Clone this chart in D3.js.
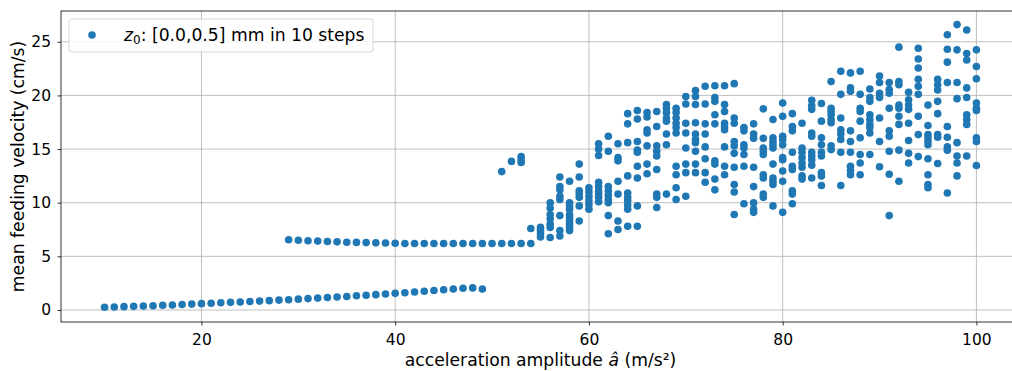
<!DOCTYPE html>
<html>
<head>
<meta charset="utf-8">
<script src="https://cdn.jsdelivr.net/npm/d3@7"></script>
<style>
    body { margin: 0; background: #fff; }
    svg { display: block; font-family: "DejaVu Sans", sans-serif; }
</style>
</head>
<body>
<script>
// Lower branch (slow feeding), one point per acceleration
const lowAccel = [10, 11, 12, 13, 14, 15, 16, 17, 18, 19, 20, 21, 22, 23, 24, 25, 26, 27, 28, 29,
    30, 31, 32, 33, 34, 35, 36, 37, 38, 39, 40, 41, 42, 43, 44, 45, 46, 47, 48, 49];
const lowVel = [0.25, 0.28, 0.31, 0.34, 0.37, 0.40, 0.44, 0.47, 0.51, 0.55, 0.59, 0.63, 0.67, 0.71,
    0.75, 0.79, 0.83, 0.87, 0.92, 0.96, 1.01, 1.06, 1.11, 1.16, 1.21, 1.26, 1.32, 1.37, 1.43, 1.49,
    1.55, 1.61, 1.67, 1.74, 1.81, 1.88, 1.95, 2.02, 2.06, 1.95];

// Middle plateau
const midAccel = [29, 30, 31, 32, 33, 34, 35, 36, 37, 38, 39, 40, 41, 42, 43, 44, 45, 46, 47, 48,
    49, 50, 51, 52, 53, 54];
const midVel = [6.55, 6.5, 6.45, 6.42, 6.38, 6.35, 6.32, 6.3, 6.28, 6.26, 6.24, 6.22, 6.2, 6.2,
    6.2, 6.2, 6.2, 6.2, 6.2, 6.2, 6.2, 6.2, 6.2, 6.2, 6.2, 6.2];

// Scattered upper region, several z0 values per acceleration
const upperAccel = [51, 52, 53, 54, 55, 56, 57, 58, 59, 60, 61, 62, 63, 64, 65, 66, 67, 68, 69, 70,
    71, 72, 73, 74, 75, 76, 77, 78, 79, 80, 81, 82, 83, 84, 85, 86, 87, 88, 89, 90,
    91, 92, 93, 94, 95, 96, 97, 98, 99, 100];
const upperVel = [
    [12.9],
    [13.85],
    [14.3, 14.0, 13.75],
    [7.6],
    [7.7, 7.4, 7.1, 6.8],
    [10.0, 9.5, 8.9, 8.5, 8.0, 7.7, 6.75],
    [12.4, 11.5, 11.2, 10.6, 10.3, 8.8, 7.4, 6.9],
    [12.0, 10.0, 9.7, 9.4, 8.9, 8.6, 8.3, 8.0, 7.7, 7.4],
    [13.6, 12.4, 11.1, 10.8, 10.5, 9.7, 8.3],
    [11.4, 11.0, 10.6, 10.2, 9.8, 9.4],
    [15.5, 15.0, 14.4, 11.9, 11.5, 11.1, 10.8, 10.5, 10.1],
    [16.2, 14.8, 11.5, 11.1, 10.7, 10.3, 10.0, 8.8, 7.1],
    [15.5, 14.2, 13.9, 12.0, 10.8, 8.3, 7.5],
    [18.3, 17.35, 15.6, 12.5, 10.9, 10.5, 10.2, 9.8, 9.4, 7.8],
    [18.6, 17.8, 15.7, 14.9, 14.7, 13.4, 12.3, 9.7, 7.8],
    [18.4, 18.0, 16.8, 16.5, 15.3, 13.6, 12.7],
    [18.5, 17.1, 15.3, 14.8, 14.35, 13.1, 10.8, 10.5, 9.55],
    [19.15, 18.8, 18.4, 17.9, 17.6, 16.4, 15.4, 10.8],
    [18.8, 18.4, 17.9, 17.4, 17.0, 16.5, 13.4, 12.6, 11.4, 10.3],
    [19.9, 19.2, 17.4, 16.5, 15.1, 13.6, 12.8, 10.6],
    [20.45, 19.9, 19.15, 17.45, 16.4, 15.9, 15.6, 14.8, 13.6, 12.8],
    [20.85, 19.2, 17.35, 16.4, 15.2, 14.1, 12.8, 11.9],
    [20.9, 19.8, 19.45, 18.2, 17.35, 13.9, 13.6, 12.2, 11.2],
    [20.9, 19.15, 18.5, 17.4, 17.1, 16.8, 15.2, 13.4, 12.6],
    [21.1, 17.9, 17.4, 15.7, 15.3, 14.6, 13.3, 11.7, 11.0, 8.9],
    [17.0, 16.7, 15.4, 15.1, 14.5, 13.4, 9.9],
    [17.35, 16.4, 16.0, 13.3, 11.5, 10.0, 9.4, 9.1],
    [18.75, 16.0, 15.1, 14.8, 14.5, 12.6, 12.3, 10.8, 10.5],
    [17.75, 16.05, 15.7, 15.4, 15.1, 13.6, 12.3, 12.0, 11.7, 9.7],
    [19.3, 18.05, 16.2, 15.9, 15.4, 14.2, 14.0, 12.95, 12.0, 9.1],
    [18.3, 17.1, 16.7, 14.7, 13.4, 13.1, 11.1, 10.8, 9.9],
    [17.4, 15.1, 14.7, 14.2, 13.7, 13.3, 12.5, 12.2],
    [19.55, 19.05, 18.7, 16.5, 16.2, 14.7, 14.35, 14.0, 13.5, 12.3],
    [19.25, 17.6, 16.05, 15.4, 14.7, 14.35, 12.8, 12.5, 11.6],
    [21.3, 18.8, 18.5, 18.2, 17.75, 17.45, 15.3, 14.95],
    [22.25, 20.1, 17.9, 16.8, 16.4, 15.9, 14.7, 11.6],
    [22.1, 20.7, 20.4, 16.7, 15.7, 14.7, 13.4, 13.0, 12.6],
    [22.25, 20.1, 18.8, 18.5, 17.6, 16.05, 14.5, 13.7, 12.6],
    [20.6, 19.8, 19.45, 18.2, 17.75, 17.3, 17.0, 16.5, 14.5],
    [21.8, 21.2, 20.2, 19.8, 17.9, 15.7, 13.35],
    [21.2, 20.55, 20.2, 18.8, 16.7, 16.2, 14.8, 12.65, 8.8],
    [24.5, 21.3, 21.0, 19.1, 18.8, 18.06, 17.3, 14.9, 12.0],
    [20.3, 19.6, 19.1, 18.7, 17.4, 15.8, 14.6, 13.7],
    [24.4, 23.4, 22.55, 21.5, 20.85, 20.1, 18.06, 16.35, 14.3],
    [19.1, 17.2, 16.35, 16.05, 15.7, 15.4, 14.1, 12.6, 11.7, 11.4],
    [21.5, 21.0, 20.5, 19.45, 18.3, 16.35, 16.1, 13.66],
    [25.65, 24.3, 23.1, 21.2, 17.1, 16.1, 15.2, 14.9, 10.9],
    [26.6, 24.25, 21.2, 19.7, 15.6, 14.35, 13.7, 12.5],
    [26.1, 23.9, 23.3, 20.7, 19.8, 18.2, 17.75, 17.3, 14.35],
    [24.25, 22.7, 21.55, 19.3, 18.8, 18.6, 16.05, 15.7, 13.47]
];

const xTicks = [20, 40, 60, 80, 100];
const yTicks = [0, 5, 10, 15, 20, 25];

const WIDTH = 1012;
const HEIGHT = 371;
const PLOT_LEFT = 61;
const PLOT_RIGHT = 1020;
const PLOT_TOP = 11;
const PLOT_BOTTOM = 322;
const COLOR = "#1f77b4";
const TICK_FONT_SIZE = 15.5;
const LABEL_FONT_SIZE = 17.2;

// Flatten everything into [x, y] pairs
const points = [];
lowAccel.forEach((a, i) => points.push([a, lowVel[i]]));
midAccel.forEach((a, i) => points.push([a, midVel[i]]));
upperAccel.forEach((a, i) => upperVel[i].forEach(v => points.push([a, v])));

const xScale = d3.scaleLinear().domain([5.5, 104.5]).range([PLOT_LEFT, PLOT_RIGHT]);
const yScale = d3.scaleLinear().domain([-1.12, 27.87]).range([PLOT_BOTTOM, PLOT_TOP]);

const svg = d3.select("body").append("svg")
    .attr("width", WIDTH)
    .attr("height", HEIGHT)
    .attr("viewBox", `0 0 ${WIDTH} ${HEIGHT}`);

svg.append("rect").attr("width", WIDTH).attr("height", HEIGHT).attr("fill", "#fff");

// Grid
const grid = svg.append("g").attr("stroke", "#b0b0b0").attr("stroke-width", 0.8);
grid.selectAll("line.gx")
    .data(xTicks)
    .join("line")
    .attr("class", "gx")
    .attr("x1", d => xScale(d)).attr("x2", d => xScale(d))
    .attr("y1", PLOT_TOP).attr("y2", PLOT_BOTTOM);
grid.selectAll("line.gy")
    .data(yTicks)
    .join("line")
    .attr("class", "gy")
    .attr("x1", PLOT_LEFT).attr("x2", PLOT_RIGHT)
    .attr("y1", d => yScale(d)).attr("y2", d => yScale(d));

// Points
svg.append("g")
    .selectAll("circle")
    .data(points)
    .join("circle")
    .attr("cx", d => xScale(d[0]))
    .attr("cy", d => yScale(d[1]))
    .attr("r", 3.8)
    .attr("fill", COLOR);

// Spines
svg.append("rect")
    .attr("x", PLOT_LEFT).attr("y", PLOT_TOP)
    .attr("width", PLOT_RIGHT - PLOT_LEFT).attr("height", PLOT_BOTTOM - PLOT_TOP)
    .attr("fill", "none").attr("stroke", "#000").attr("stroke-width", 0.8);

// Axes
const xAxis = svg.append("g")
    .attr("transform", `translate(0, ${PLOT_BOTTOM})`)
    .call(d3.axisBottom(xScale).tickValues(xTicks).tickSize(3.5).tickSizeOuter(0).tickPadding(8));
const yAxis = svg.append("g")
    .attr("transform", `translate(${PLOT_LEFT}, 0)`)
    .call(d3.axisLeft(yScale).tickValues(yTicks).tickSize(3.5).tickSizeOuter(0).tickPadding(6.5));

[xAxis, yAxis].forEach(axis => {
    axis.select(".domain").remove();
    axis.selectAll("line").attr("stroke", "#000").attr("stroke-width", 0.8);
    axis.selectAll("text")
        .attr("fill", "#000")
        .style("font-size", `${TICK_FONT_SIZE}px`)
        .style("font-family", "DejaVu Sans, sans-serif");
});

// Axis labels
const xLabel = svg.append("text")
    .attr("x", (PLOT_LEFT + PLOT_RIGHT) / 2)
    .attr("y", 366)
    .attr("text-anchor", "middle")
    .style("font-size", `${LABEL_FONT_SIZE}px`);
xLabel.append("tspan").text("acceleration amplitude ");
xLabel.append("tspan").attr("font-style", "italic").text("â");
xLabel.append("tspan").text(" (m/s²)");

svg.append("text")
    .attr("transform", `translate(24, ${(PLOT_TOP + PLOT_BOTTOM) / 2}) rotate(-90)`)
    .attr("text-anchor", "middle")
    .style("font-size", `${LABEL_FONT_SIZE}px`)
    .text("mean feeding velocity (cm/s)");

// Legend
const legend = svg.append("g");
legend.append("rect")
    .attr("x", 69).attr("y", 19)
    .attr("width", 304).attr("height", 33)
    .attr("rx", 3)
    .attr("fill", "#fff").attr("fill-opacity", 0.8)
    .attr("stroke", "#cccccc").attr("stroke-width", 0.8);
legend.append("circle")
    .attr("cx", 92).attr("cy", 35)
    .attr("r", 3.8)
    .attr("fill", COLOR);
const legendText = legend.append("text")
    .attr("x", 124).attr("y", 41)
    .style("font-size", `${LABEL_FONT_SIZE}px`);
legendText.append("tspan").attr("font-style", "italic").text("z");
legendText.append("tspan").attr("font-size", "12px").attr("dy", 3).text("0");
legendText.append("tspan").attr("dy", -3).text(": [0.0,0.5] mm in 10 steps");
</script>
</body>
</html>
